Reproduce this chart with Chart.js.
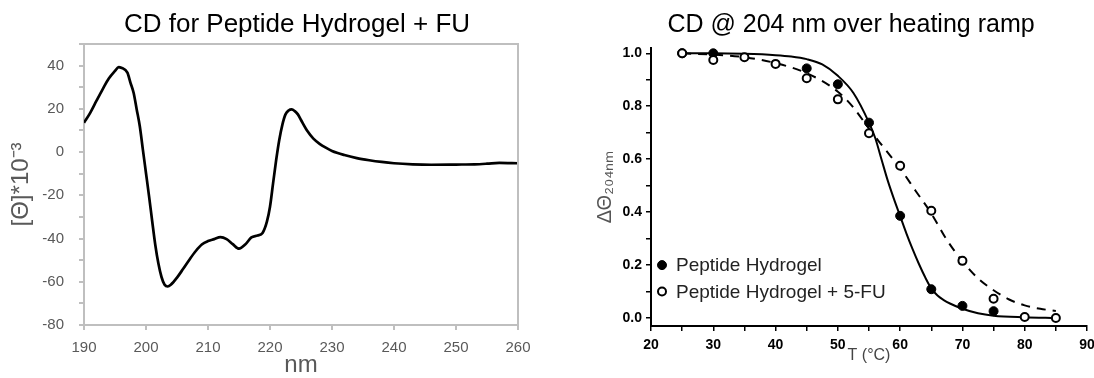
<!DOCTYPE html>
<html>
<head>
<meta charset="utf-8">
<script src="https://cdn.jsdelivr.net/npm/chart.js@4/dist/chart.umd.min.js"></script>
<style>
  html, body { margin: 0; padding: 0; background: #fff; }
  #wrap { position: relative; width: 1094px; height: 378px; }
  canvas { position: absolute; top: 0; }
</style>
</head>
<body>
<div id="wrap">
  <canvas id="cdSpectrum" width="547" height="378" style="left:0"></canvas>
  <canvas id="cdMelt" width="547" height="378" style="left:547px"></canvas>
</div>
<script>
// CD spectrum (left)
const wavelength = [190, 191, 192, 193, 194, 195, 195.6, 196, 197, 197.5, 198, 198.5, 199, 199.5, 200,
  200.5, 201, 201.5, 202, 202.5, 203, 203.5, 204, 205, 206, 207, 208, 209, 210, 211, 212, 213, 214,
  215, 216, 217, 218, 218.8, 219.5, 220, 220.5, 221, 221.5, 222, 222.5, 223, 223.5, 224, 224.5, 225,
  226, 227, 228, 229, 230, 232, 234, 236, 238, 240, 243, 246, 250, 253, 255, 257, 260];
const ellipticity = [13.5, 18.1, 23.6, 29, 34, 37.5, 39.3, 39.0, 36.7, 32, 27.4, 19.7, 11.9, 1, -9.8,
  -20.6, -32, -43, -51.6, -57.8, -61.4, -62.2, -61.4, -58.1, -54, -49.8, -45.9, -42.8, -41.2, -40.3, -39.4, -40.3, -42.6,
  -44.7, -42.8, -39.5, -38.6, -37.4, -32.2, -25.3, -14.4, -3.6, 5.7, 12.7, 17.4, 19.2, 19.7, 18.9, 17.4, 14.8,
  9.8, 6.2, 3.8, 2, 0.5, -1.4, -2.8, -3.8, -4.6, -5.2, -5.7, -5.9, -5.8, -5.7, -5.4, -5.0, -5.2];
const spectrumYTicks = [-80, -60, -40, -20, 0, 20, 40];

// CD @ 204 nm melt (right)
const tempPoints = [25, 30, 35, 40, 45, 50, 55, 60, 65, 70, 75, 80, 85];
const hydrogel = [1.0, 1.0, null, null, 0.943, 0.883, 0.738, 0.386, 0.109, 0.046, 0.026, null, null];
const hydrogelFU = [1.0, 0.975, 0.985, 0.96, 0.906, 0.826, 0.698, 0.575, 0.405, 0.216, 0.073, 0.004, 0.0];

const fitTemp = [25, 30, 35, 40, 42.5, 45, 47.5, 50, 52.5, 55, 56, 57, 58, 59, 60, 61, 62, 63, 64, 65,
  66, 67, 68, 70, 72.5, 75, 80, 85];
const hydrogelFit = [1.0, 1.0, 0.998, 0.993, 0.988, 0.978, 0.958, 0.915, 0.85, 0.738, 0.68, 0.6, 0.52, 0.45, 0.385,
  0.32, 0.26, 0.205, 0.155, 0.112, 0.085, 0.068, 0.055, 0.035, 0.018, 0.009, 0.003, 0.0];
const fuFitTemp = [25, 30, 35, 40, 45, 50, 52.5, 55, 57.5, 60, 62.5, 65, 67.5, 70, 72.5, 75, 77.5, 80, 82.5, 85];
const fuFit = [1.0, 0.995, 0.985, 0.963, 0.925, 0.855, 0.795, 0.715, 0.64, 0.565, 0.48, 0.395, 0.295, 0.215,
  0.15, 0.105, 0.07, 0.048, 0.035, 0.027];
const meltYTicks = [0, 0.1, 0.2, 0.3, 0.4, 0.5, 0.6, 0.7, 0.8, 0.9, 1.0];

const xy = (xs, ys) => xs.map((x, i) => ({ x: x, y: ys[i] }));
const FONT = "'Liberation Sans', Arimo, Arial, sans-serif";
const GRAYAXIS = "#bfbfbf";
const GRAYTEXT = "#595959";

// center the chart title over the plot area (plus a small nudge)
const titleOverPlot = {
  id: "titleOverPlot",
  afterLayout(chart, args, opts) {
    const shift = opts.shift || 0;
    if (chart.titleBlock) {
      chart.titleBlock.left = chart.chartArea.left + shift;
      chart.titleBlock.right = chart.chartArea.right + shift;
    }
  }
};

// gray box round the spectrum plot
const frame = {
  id: "frame",
  afterDraw(chart) {
    const a = chart.chartArea, c = chart.ctx;
    c.save();
    c.strokeStyle = GRAYAXIS;
    c.lineWidth = 2;
    c.beginPath();
    c.moveTo(a.left, a.top);
    c.lineTo(a.right, a.top);
    c.lineTo(a.right, a.bottom);
    c.stroke();
    c.restore();
  }
};

new Chart(document.getElementById("cdSpectrum"), {
  type: "line",
  data: {
    datasets: [{
      data: xy(wavelength, ellipticity),
      borderColor: "#000",
      borderWidth: 2.7,
      pointRadius: 0,
      cubicInterpolationMode: "monotone"
    }]
  },
  options: {
    responsive: false,
    animation: false,
    layout: { padding: { right: 29 } },
    plugins: {
      legend: { display: false },
      tooltip: { enabled: false },
      titleOverPlot: { shift: -4 },
      title: {
        display: true,
        text: "CD for Peptide Hydrogel + FU",
        color: "#000",
        font: { family: FONT, size: 26, weight: "normal", lineHeight: 1.15 },
        padding: { top: 10, bottom: 4 }
      }
    },
    scales: {
      x: {
        type: "linear",
        min: 190,
        max: 260,
        afterFit: s => { s.height = 53; },
        ticks: { stepSize: 10, color: GRAYTEXT, font: { family: FONT, size: 15 }, padding: 9, maxRotation: 0 },
        grid: { drawOnChartArea: false, color: GRAYAXIS, tickLength: 5, lineWidth: 2 },
        border: { color: GRAYAXIS, width: 2 },
        title: {
          display: true, text: "nm", color: GRAYTEXT,
          font: { family: FONT, size: 24, lineHeight: 1 }, padding: { top: 0, bottom: 1 }
        }
      },
      y: {
        min: -80,
        max: 50,
        afterFit: s => { s.width = 84; },
        ticks: {
          stepSize: 10, autoSkip: false, color: GRAYTEXT, font: { family: FONT, size: 15 }, padding: 15,
          callback: v => spectrumYTicks.includes(v) ? v : ""
        },
        grid: { drawOnChartArea: false, color: GRAYAXIS, tickLength: 5, lineWidth: 2 },
        border: { color: GRAYAXIS, width: 2 },
        title: {
          display: true, text: "[Θ]*10⁻³", color: GRAYTEXT,
          font: { family: FONT, size: 24 }, padding: { top: 7 }
        }
      }
    }
  },
  plugins: [titleOverPlot, frame]
});

// legend drawn inside the melt plot
const insideLegend = {
  id: "insideLegend",
  afterDraw(chart) {
    const c = chart.ctx, a = chart.chartArea, y = chart.scales.y;
    const rows = [chart.data.datasets[0], chart.data.datasets[1]];
    const rowY = [y.getPixelForValue(0.2), y.getPixelForValue(0.1)];
    c.save();
    c.font = "19px " + FONT;
    c.textBaseline = "middle";
    rows.forEach((ds, i) => {
      const mx = a.left + 11, my = rowY[i];
      c.beginPath();
      c.arc(mx, my, ds.pointRadius, 0, Math.PI * 2);
      c.fillStyle = ds.pointBackgroundColor;
      c.fill();
      c.lineWidth = ds.pointBorderWidth;
      c.strokeStyle = "#000";
      c.stroke();
      c.fillStyle = "#222";
      c.fillText(ds.label, a.left + 25, my + 1);
    });
    c.restore();
  }
};

new Chart(document.getElementById("cdMelt"), {
  type: "line",
  data: {
    datasets: [
      {
        label: "Peptide Hydrogel",
        data: xy(tempPoints, hydrogel),
        showLine: false,
        pointRadius: 4.5,
        pointBackgroundColor: "#000",
        pointBorderColor: "#000",
        pointBorderWidth: 1,
        order: 2
      },
      {
        label: "Peptide Hydrogel + 5-FU",
        data: xy(tempPoints, hydrogelFU),
        showLine: false,
        pointRadius: 4,
        pointBackgroundColor: "#fff",
        pointBorderColor: "#000",
        pointBorderWidth: 2,
        order: 1
      },
      {
        label: "Peptide Hydrogel fit",
        data: xy(fitTemp, hydrogelFit),
        borderColor: "#000",
        borderWidth: 2,
        pointRadius: 0,
        cubicInterpolationMode: "monotone",
        order: 3
      },
      {
        label: "Peptide Hydrogel + 5-FU fit",
        data: xy(fuFitTemp, fuFit),
        borderColor: "#000",
        borderWidth: 2,
        borderDash: [9, 7],
        pointRadius: 0,
        cubicInterpolationMode: "monotone",
        order: 4
      }
    ]
  },
  options: {
    responsive: false,
    animation: false,
    layout: { padding: { right: 7 } },
    plugins: {
      legend: { display: false },
      tooltip: { enabled: false },
      titleOverPlot: { shift: -18 },
      title: {
        display: true,
        text: "CD @ 204 nm over heating ramp",
        color: "#000",
        font: { family: FONT, size: 25, weight: "normal" },
        padding: { top: 10, bottom: 8 }
      }
    },
    scales: {
      x: {
        type: "linear",
        min: 20,
        max: 90,
        afterFit: s => { s.height = 52; s.paddingRight = 0; },
        ticks: {
          stepSize: 5, autoSkip: false, color: "#000", font: { family: FONT, size: 14, weight: "bold" },
          padding: 6, maxRotation: 0,
          callback: v => v % 10 === 0 ? v : ""
        },
        grid: { drawOnChartArea: false, color: "#000", tickLength: 5, lineWidth: 1.5 },
        border: { color: "#000", width: 2 },
        title: {
          display: true, text: "T (°C)", color: "#444",
          font: { family: FONT, size: 16 }, padding: { top: 0, bottom: 13 }
        }
      },
      y: {
        min: -0.03,
        max: 1.02,
        afterFit: s => { s.width = 104; },
        afterBuildTicks: s => { s.ticks = meltYTicks.map(v => ({ value: v })); },
        ticks: {
          autoSkip: false, color: "#000", font: { family: FONT, size: 14, weight: "bold" },
          padding: 4,
          callback: v => Math.round(v * 10) % 2 === 0 ? v.toFixed(1) : ""
        },
        grid: { drawOnChartArea: false, color: "#000", tickLength: 5, lineWidth: 1.5 },
        border: { color: "#000", width: 2 },
        title: {
          display: true, text: "ΔΘ₂₀₄ₙₘ", color: "#555",
          font: { family: FONT, size: 20 }, padding: { top: 46 }
        }
      }
    }
  },
  plugins: [titleOverPlot, insideLegend]
});
</script>
</body>
</html>
